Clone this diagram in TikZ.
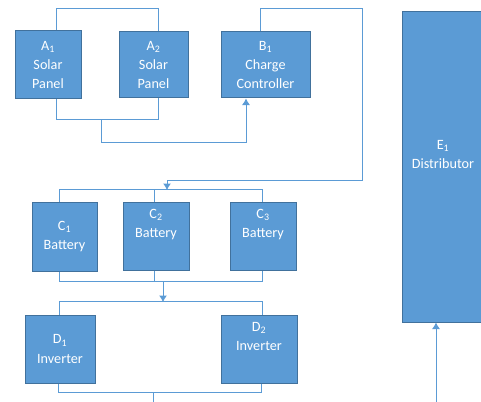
\documentclass[tikz,border=0pt]{standalone}
\usepackage{fontspec}
\setmainfont{Carlito}
\usetikzlibrary{arrows.meta}
\definecolor{boxfill}{HTML}{5B9BD5}
\definecolor{boxline}{HTML}{41719C}
\definecolor{wirecol}{HTML}{5B9BD5}
\tikzset{
	unit/.style={draw=boxline, fill=boxfill, line width=1pt, text=white, align=center, inner sep=0pt, font=\fontsize{14.2}{19.2}\selectfont},
	wire/.style={draw=wirecol, line width=1pt},
	arr/.style={-{Latex[length=6.5pt,width=8pt]}}
}
\begin{document}
\begin{tikzpicture}[x=1pt,y=-1pt]
			\useasboundingbox (0,0) rectangle (481,401);
			% Paths, nodes and wires:
			\node[unit, minimum width=66, minimum height=68](A1) at (48, 65){A\textsubscript{1}\\Solar\\Panel};
			\node[unit, minimum width=69, minimum height=66](A2) at (153.5, 65){A\textsubscript{2}\\Solar\\Panel};
			\node[unit, minimum width=89, minimum height=66](B1) at (265.5, 65){B\textsubscript{1}\\Charge\\Controller};
			\node[unit, minimum width=82, minimum height=310](E1) at (443, 167){E\textsubscript{1}\\Distributor\\\strut};
			\node[unit, minimum width=65, minimum height=69](C1) at (64.5, 236.5){C\textsubscript{1}\\Battery};
			\node[unit, minimum width=66, minimum height=68](C2) at (156, 236){C\textsubscript{2}\\Battery\\\strut};
			\node[unit, minimum width=66, minimum height=68](C3) at (263, 236){C\textsubscript{3}\\Battery\\\strut};
			\node[unit, minimum width=70, minimum height=68](D1) at (60, 349){D\textsubscript{1}\\Inverter};
			\node[unit, minimum width=76, minimum height=68](D2) at (259, 349){D\textsubscript{2}\\Inverter\\\strut};
			\coordinate (Aout) at (101, 119);
			\coordinate (turn) at (362, 180);
			\coordinate (Cin) at (167, 190);
			\coordinate (Cout) at (163, 281);
			\coordinate (Din) at (163, 302);
			\coordinate (Dout) at (153, 392);
			\coordinate (Ein) at (436, 405);
			\draw[wire] ([xshift=8]A1.north) -- ++(0, -22) -| ([xshift=4.5]A2.north);
			\draw[wire] ([xshift=8]A1.south) -- ++(0, 20) -| ([xshift=4.5]A2.south);
			\draw[wire, arr] (Aout) -- ++(0, 23) -| ([xshift=-19.5]B1.south);
			\draw[wire, arr] ([xshift=-5.5]B1.north) -- ++(0, -23) -| (turn) -| (Cin);
			\draw[wire] ([xshift=-5.5]C1.north) -- ++(0, -12) -| ([xshift=-1]C3.north);
			\draw[wire] ([xshift=-2]C2.north) -- ++(0, -12);
			\draw[wire] ([xshift=-5.5]C1.south) -- ++(0, 10) -| ([xshift=-1]C3.south);
			\draw[wire] ([xshift=-2]C2.south) -- ++(0, 11);
			\draw[wire, arr] (Cout) -- (Din);
			\draw[wire] ([xshift=-1]D1.north) -- ++(0, -13) -| ([xshift=3]D2.north);
			\draw[wire] ([xshift=-2]D1.south) -- ++(0, 9) -| ([xshift=2]D2.south);
			\draw[wire] (Dout) -- ++(0, 12);
			\draw[wire, arr] (Ein) -- ([xshift=-7]E1.south);
		\end{tikzpicture}
\end{document}
